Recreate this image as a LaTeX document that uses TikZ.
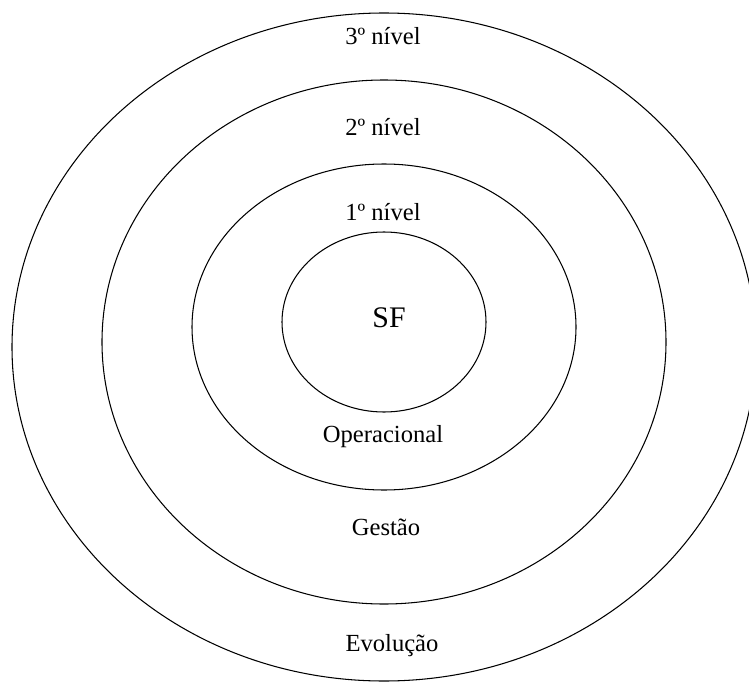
\documentclass[tikz,border=0pt]{standalone}
\usepackage{fontspec}
\setmainfont{Liberation Serif}
\usepackage{tikz}
\usetikzlibrary{positioning}

\begin{document}
\begin{tikzpicture}[
    ring/.style={line width=0.6pt},
    lvl/.style={font=\fontsize{14}{16}\selectfont,inner sep=1pt},
    core/.style={font=\fontsize{17}{19}\selectfont,inner sep=1pt}
]
\useasboundingbox (0,0) rectangle (14.98,13.64);

% rings, outside in
\draw[ring] (7.68,6.70) ellipse [x radius=7.44,y radius=6.68];
\draw[ring] (7.68,6.80) ellipse [x radius=5.64,y radius=5.24];
\draw[ring] (7.68,7.10) ellipse [x radius=3.84,y radius=3.26];
\draw[ring] (7.68,7.20) ellipse [x radius=2.04,y radius=1.80];

\node[lvl] (n3) at (7.66,12.92) {3º nível};
\node[lvl] (n2) at (7.66,11.10) {2º nível};
\node[lvl] (n1) at (7.66,9.40) {1º nível};
\node[core] (sf) at (7.78,7.28) {SF};

\node[lvl] (op) at (7.66,4.90) {Operacional};
\node[lvl] (ge) at (7.72,3.10) {Gestão};
\node[lvl] (ev) at (7.84,0.72) {Evolução};
\end{tikzpicture}
\end{document}
